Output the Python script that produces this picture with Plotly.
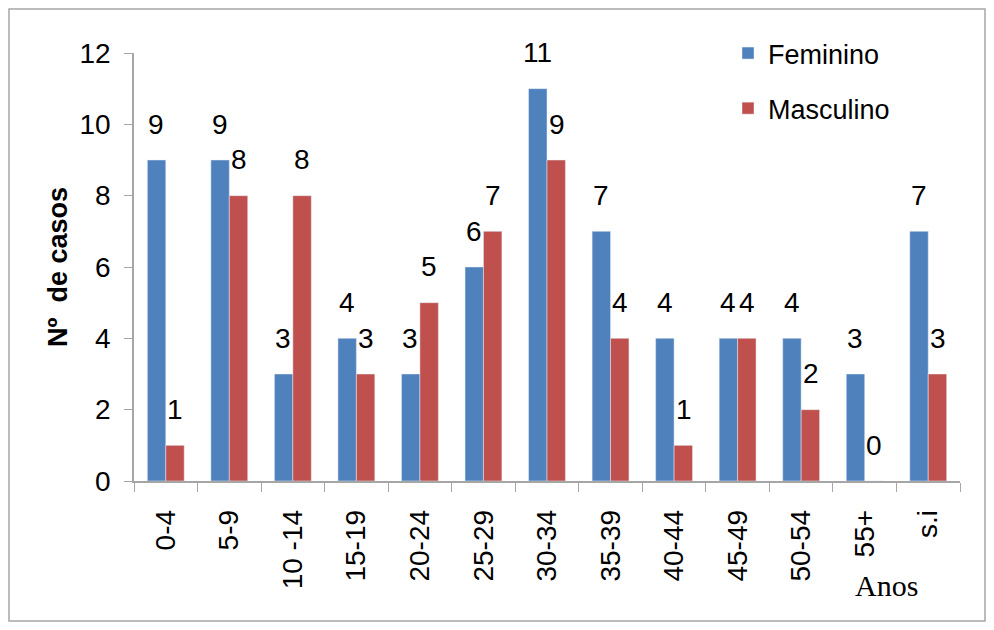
import plotly.graph_objects as go

categories = ["0-4", "5-9", "10 -14", "15-19", "20-24", "25-29", "30-34", "35-39",
              "40-44", "45-49", "50-54", "55+", "s.i"]
feminino = [9, 9, 3, 4, 3, 6, 11, 7, 4, 4, 4, 3, 7]
masculino = [1, 8, 8, 3, 5, 7, 9, 4, 1, 4, 2, 0, 3]
y_ticks = [0, 2, 4, 6, 8, 10, 12]

FONT = "Liberation Sans Narrow, Arial Narrow, Liberation Sans, sans-serif"
BLUE = "#4F81BD"
RED = "#C0504D"

# page has an 8px body margin; figure sized so the page fits the window
OFF = 8
W, H = 994 - 2 * OFF, 630 - 2 * OFF
L = 134 - OFF
T = 53 - OFF
R = W - (960 - OFF)
B = H - (481 - OFF)
pw, ph = W - L - R, H - T - B


def px(xr):
    return (xr - OFF - L) / pw


def py(yr):
    return (T + ph - (yr - OFF)) / ph


def fx(xf):
    return (xf - L) / pw


def fy(yf):
    return (T + ph - yf) / ph


fig = go.Figure()
fig.add_trace(go.Bar(name="Feminino", x=categories, y=feminino, marker_color=BLUE,
                     legendgroup="f"))
fig.add_trace(go.Bar(name="Masculino", x=categories, y=masculino, marker_color=RED,
                     legendgroup="m"))

annotations = []
for series, shift in ((feminino, -9.5), (masculino, 9.5)):
    for c, v in zip(categories, series):
        annotations.append(dict(x=c, y=v, xref="x", yref="y", text=str(v),
                                showarrow=False, xshift=shift, yshift=36,
                                yanchor="middle",
                                font=dict(family=FONT, size=28, color="black")))

annotations.append(dict(x=px(886), y=py(585), xref="paper", yref="paper",
                        text="Anos", showarrow=False, xanchor="center", yanchor="middle",
                        font=dict(family="Liberation Serif, Times New Roman, serif",
                                  size=30, color="black")))

fig.update_layout(
    width=W, height=H,
    margin=dict(l=L, r=R, t=T, b=B),
    paper_bgcolor="white", plot_bgcolor="white",
    barmode="group", bargap=0.42, bargroupgap=0,
    font=dict(family=FONT, size=28, color="black"),
    showlegend=True,
    legend=dict(x=px(728), y=py(29), xanchor="left", yanchor="top",
                traceorder="grouped", tracegroupgap=17,
                font=dict(family=FONT, size=27, color="black"),
                bgcolor="rgba(0,0,0,0)"),
    annotations=annotations,
    shapes=[dict(type="rect", xref="paper", yref="paper",
                 x0=fx(1), x1=fx(W - 1), y0=fy(H - 1), y1=fy(1),
                 line=dict(color="#A6A6A6", width=1.5), fillcolor="rgba(0,0,0,0)",
                 layer="below")],
)

fig.update_xaxes(type="category", tickangle=-90, showline=True, linecolor="#A6A6A6",
                 linewidth=1.5, ticks="outside", ticklen=9, tickcolor="#A6A6A6",
                 tickson="boundaries", showgrid=False, ticklabelstandoff=16,
                 tickfont=dict(family=FONT, size=28, color="black"))
fig.update_yaxes(range=[0, 12], tickvals=y_ticks, showline=True, linecolor="#A6A6A6",
                 linewidth=1.5, ticks="outside", ticklen=8, tickcolor="#A6A6A6",
                 showgrid=False, zeroline=False, ticklabelstandoff=8,
                 tickfont=dict(family=FONT, size=28, color="black"),
                 title=dict(text="<b>Nº  de casos</b>", standoff=4,
                            font=dict(family=FONT, size=27, color="black")))

fig.write_html("out.html")
